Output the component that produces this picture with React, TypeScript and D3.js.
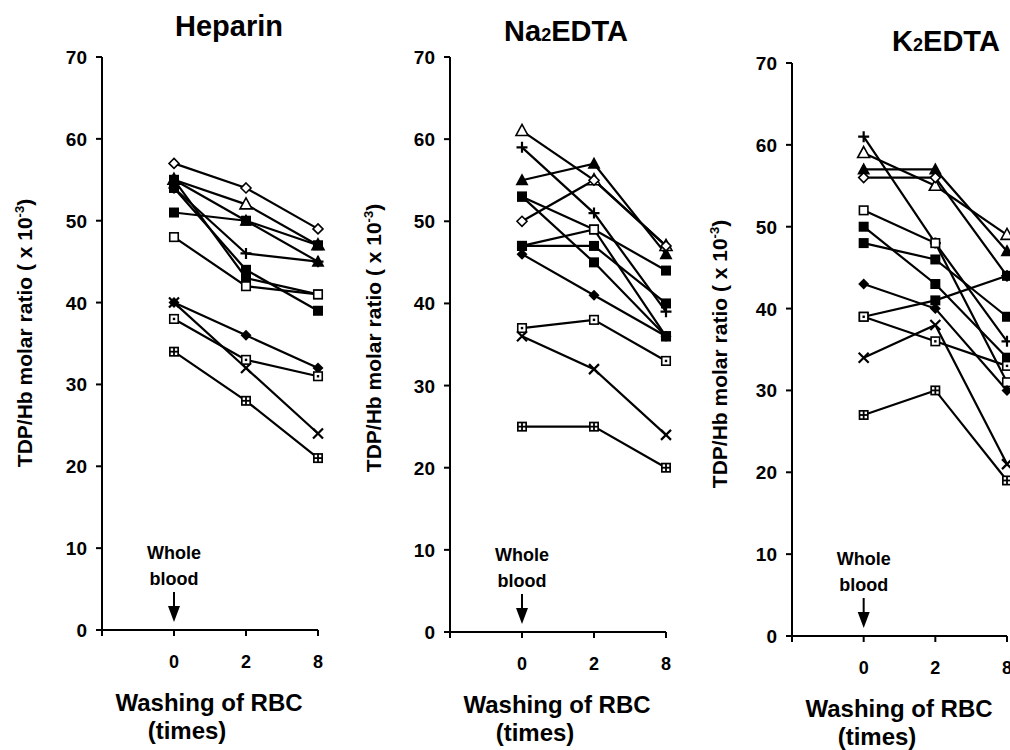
import React from "react";
import * as d3 from "d3";

const xCategories = ["0", "2", "8"];
const yTicks = [0, 10, 20, 30, 40, 50, 60, 70];

const heparinMarkers = ["diamondOpen", "triangleOpen", "triangleFilled", "squareFilled", "plus", "squareFilled", "squareFilled", "squareOpen", "diamondFilled", "cross", "squareDot", "squareGrid"];
const heparinValues = [
  [57, 54, 49], [55, 52, 47], [55, 50, 45], [51, 50, 47], [54, 46, 45], [54, 44, 39],
  [55, 43, 41], [48, 42, 41], [40, 36, 32], [40, 32, 24], [38, 33, 31], [34, 28, 21],
];

const na2Markers = ["triangleOpen", "plus", "triangleFilled", "diamondOpen", "squareFilled", "squareOpen", "squareFilled", "squareFilled", "diamondFilled", "squareDot", "cross", "squareGrid"];
const na2Values = [
  [61, 55, 47], [59, 51, 39], [55, 57, 46], [50, 55, 47], [53, 49, 44], [47, 49, 36],
  [53, 45, 36], [47, 47, 40], [46, 41, 36], [37, 38, 33], [36, 32, 24], [25, 25, 20],
];

const k2Markers = ["plus", "triangleOpen", "triangleFilled", "diamondOpen", "squareOpen", "squareFilled", "squareFilled", "diamondFilled", "squareFilled", "cross", "squareDot", "squareGrid"];
const k2Values = [
  [61, 48, 36], [59, 55, 49], [57, 57, 47], [56, 56, 44], [52, 48, 31], [50, 43, 34],
  [48, 46, 39], [43, 40, 30], [39, 41, 44], [34, 38, 21], [39, 36, 33], [27, 30, 19],
];

const FONT = "'Liberation Sans', Arial, Helvetica, sans-serif";

type PanelCfg = {
  title: string;
  sub?: string;
  titleRest?: string;
  titleX: number;
  titleY: number;
  axisX: number;
  right: number;
  yBottom: number;
  yTop: number;
  yTitleX: number;
  yTitleY: number;
  markers: string[];
  values: number[][];
};

const panels: PanelCfg[] = [
  { title: "Heparin", titleX: 229, titleY: 36, axisX: 102, right: 318, yBottom: 630, yTop: 57, yTitleX: 32, yTitleY: 333, markers: heparinMarkers, values: heparinValues },
  { title: "Na", sub: "2", titleRest: "EDTA", titleX: 566, titleY: 41, axisX: 450, right: 666, yBottom: 632, yTop: 57, yTitleX: 381, yTitleY: 338, markers: na2Markers, values: na2Values },
  { title: "K", sub: "2", titleRest: "EDTA", titleX: 946, titleY: 51, axisX: 792, right: 1007, yBottom: 636, yTop: 63, yTitleX: 727, yTitleY: 354, markers: k2Markers, values: k2Values },
];

function Marker({ type, x, y }: { type: string; x: number; y: number }) {
  const s = 5;
  switch (type) {
    case "squareFilled":
      return <rect x={x - s} y={y - s} width={2 * s} height={2 * s} fill="#000" />;
    case "squareOpen":
      return <rect x={x - s + 0.75} y={y - s + 0.75} width={2 * s - 1.5} height={2 * s - 1.5} fill="#fff" stroke="#000" strokeWidth={1.6} />;
    case "squareDot":
      return (
        <g>
          <rect x={x - s + 0.75} y={y - s + 0.75} width={2 * s - 1.5} height={2 * s - 1.5} fill="#fff" stroke="#000" strokeWidth={1.6} />
          <rect x={x - 1.2} y={y - 1.2} width={2.4} height={2.4} fill="#000" />
        </g>
      );
    case "squareGrid":
      return (
        <g>
          <rect x={x - s} y={y - s} width={2 * s} height={2 * s} fill="#000" />
          <rect x={x - 3.3} y={y - 3.3} width={2.4} height={2.4} fill="#fff" />
          <rect x={x + 0.9} y={y - 3.3} width={2.4} height={2.4} fill="#fff" />
          <rect x={x - 3.3} y={y + 0.9} width={2.4} height={2.4} fill="#fff" />
          <rect x={x + 0.9} y={y + 0.9} width={2.4} height={2.4} fill="#fff" />
        </g>
      );
    case "triangleOpen":
      return <path d={`M${x},${y - 6.5}L${x + 6},${y + 4.5}L${x - 6},${y + 4.5}Z`} fill="#fff" stroke="#000" strokeWidth={1.6} />;
    case "triangleFilled":
      return <path d={`M${x},${y - 7}L${x + 6.5},${y + 5}L${x - 6.5},${y + 5}Z`} fill="#000" />;
    case "diamondOpen":
      return <path d={`M${x},${y - 5}L${x + 5},${y}L${x},${y + 5}L${x - 5},${y}Z`} fill="#fff" stroke="#000" strokeWidth={1.6} />;
    case "diamondFilled":
      return <path d={`M${x},${y - 5.5}L${x + 5.5},${y}L${x},${y + 5.5}L${x - 5.5},${y}Z`} fill="#000" />;
    case "plus":
      return <path d={`M${x - 5.5},${y}H${x + 5.5}M${x},${y - 5.5}V${y + 5.5}`} stroke="#000" strokeWidth={2.2} />;
    case "cross":
      return <path d={`M${x - 5},${y - 5}L${x + 5},${y + 5}M${x - 5},${y + 5}L${x + 5},${y - 5}`} stroke="#000" strokeWidth={2.2} />;
    default:
      return null;
  }
}

function Panel({ cfg }: { cfg: PanelCfg }) {
  const x = d3.scalePoint<string>().domain(["start", ...xCategories]).range([cfg.axisX, cfg.right]);
  const y = d3.scaleLinear().domain([0, 70]).range([cfg.yBottom, cfg.yTop]);
  const line = d3
    .line<number>()
    .x((_, i) => x(xCategories[i]) as number)
    .y((v) => y(v));
  const y0 = y(0);
  const x0 = x("0") as number;
  return (
    <g>
      <text x={cfg.titleX} y={cfg.titleY} textAnchor="middle" fontFamily={FONT} fontWeight="bold" fontSize={29}>
        {cfg.title}
        {cfg.sub && <tspan fontSize={18}>{cfg.sub}</tspan>}
        {cfg.titleRest && <tspan>{cfg.titleRest}</tspan>}
      </text>
      <line x1={cfg.axisX} x2={cfg.axisX} y1={y(0)} y2={y(70)} stroke="#000" strokeWidth={2} />
      {yTicks.map((t) => (
        <g key={t}>
          <line x1={cfg.axisX - 6} x2={cfg.axisX} y1={y(t)} y2={y(t)} stroke="#000" strokeWidth={2} />
          <text x={cfg.axisX - 15} y={y(t) + 7} textAnchor="end" fontFamily={FONT} fontWeight="bold" fontSize={19}>
            {t}
          </text>
        </g>
      ))}
      <line x1={cfg.axisX} x2={cfg.right} y1={y0} y2={y0} stroke="#000" strokeWidth={2} />
      {["start", ...xCategories].map((c) => (
        <line key={c} x1={x(c) as number} x2={x(c) as number} y1={y0} y2={y0 + 6} stroke="#000" strokeWidth={2} />
      ))}
      {xCategories.map((c) => (
        <text key={c} x={x(c) as number} y={y0 + 38} textAnchor="middle" fontFamily={FONT} fontWeight="bold" fontSize={18}>
          {c}
        </text>
      ))}
      <text x={x0} y={y0 - 71} textAnchor="middle" fontFamily={FONT} fontWeight="bold" fontSize={18}>
        Whole
      </text>
      <text x={x0} y={y0 - 45} textAnchor="middle" fontFamily={FONT} fontWeight="bold" fontSize={18}>
        blood
      </text>
      <line x1={x0} x2={x0} y1={y0 - 38} y2={y0 - 20} stroke="#000" strokeWidth={2} />
      <path d={`M${x0 - 6},${y0 - 24}L${x0 + 6},${y0 - 24}L${x0},${y0 - 8}Z`} fill="#000" />
      <text x={cfg.axisX + 107} y={y0 + 81} textAnchor="middle" fontFamily={FONT} fontWeight="bold" fontSize={24}>
        Washing of RBC
      </text>
      <text x={cfg.axisX + 85} y={y0 + 109} textAnchor="middle" fontFamily={FONT} fontWeight="bold" fontSize={24}>
        (times)
      </text>
      <text
        transform={`translate(${cfg.yTitleX},${cfg.yTitleY}) rotate(-90)`}
        textAnchor="middle"
        fontFamily={FONT}
        fontWeight="bold"
        fontSize={21}
      >
        TDP/Hb molar ratio ( x 10
        <tspan fontSize={13} dy={-8}>-3</tspan>
        <tspan dy={8}>)</tspan>
      </text>
      {cfg.values.map((vals, i) => (
        <path key={"l" + i} d={line(vals) as string} fill="none" stroke="#000" strokeWidth={2.2} />
      ))}
      {cfg.values.map((vals, i) => (
        <g key={"m" + i}>
          {vals.map((v, j) => (
            <Marker key={j} type={cfg.markers[i]} x={x(xCategories[j]) as number} y={y(v)} />
          ))}
        </g>
      ))}
    </g>
  );
}

export default function App() {
  return (
    <svg
      width={1010}
      height={750}
      viewBox="0 0 1010 750"
      style={{ position: "absolute", left: 0, top: 0, background: "#fff" }}
    >
      <rect width={1010} height={750} fill="#fff" />
      {panels.map((p, i) => (
        <Panel key={i} cfg={p} />
      ))}
    </svg>
  );
}
